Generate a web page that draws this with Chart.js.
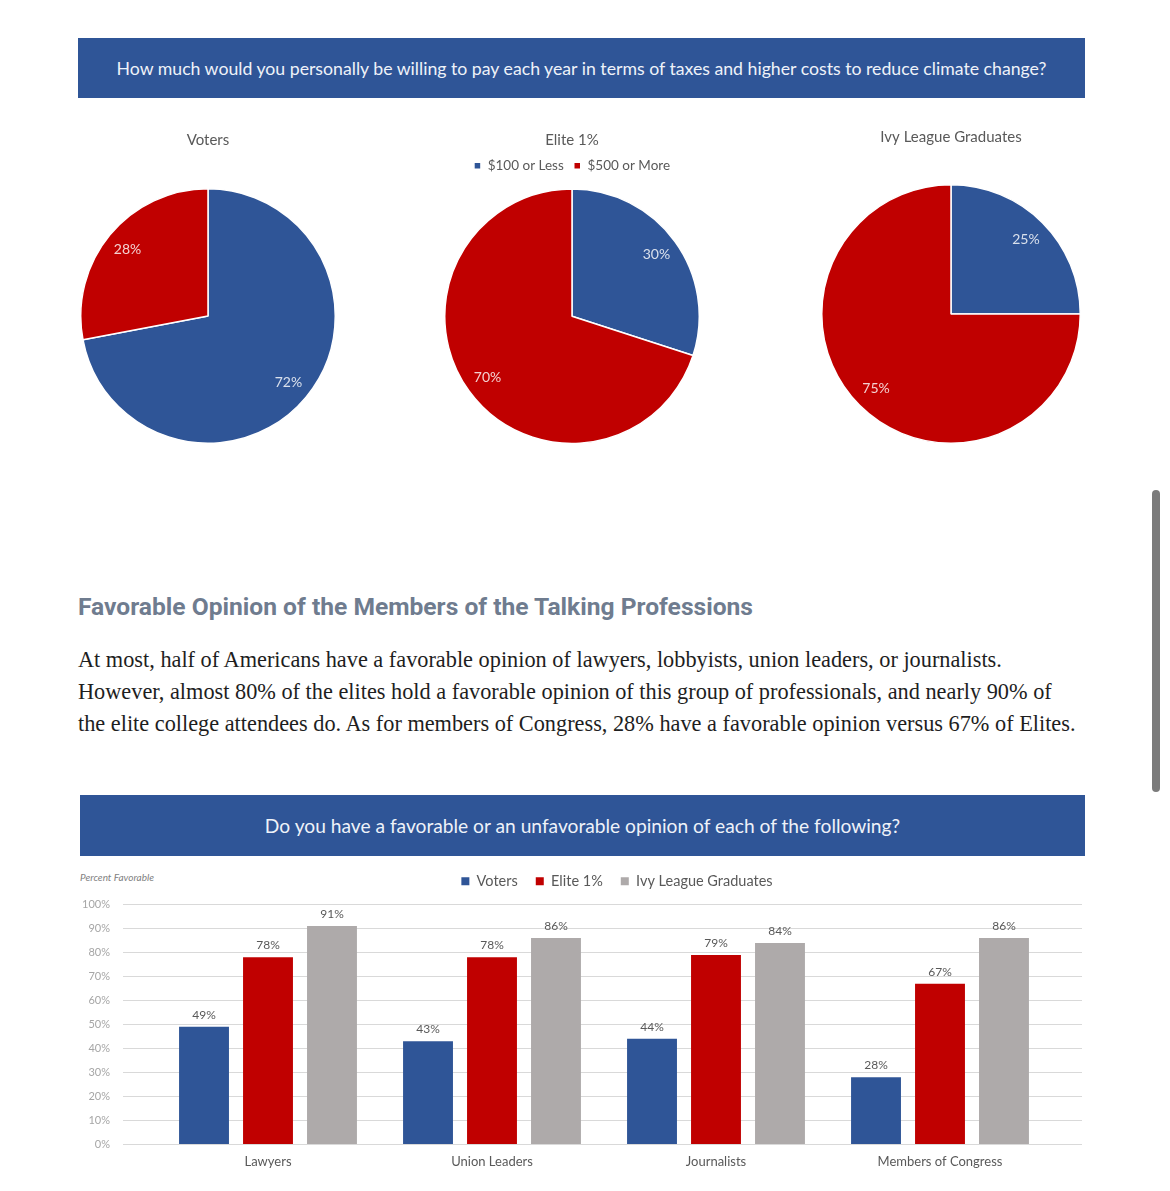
<!DOCTYPE html>
<html>
<head>
<meta charset="utf-8">
<script src="https://cdn.jsdelivr.net/npm/chart.js@4.4.0/dist/chart.umd.min.js"></script>
<style>
  html, body { margin: 0; padding: 0; background: #fff; overflow: hidden; }
  #page { position: relative; width: 1170px; height: 1191px; }
  .band {
    position: absolute; background: #2f5597; color: #eef2f9;
    font-family: Lato, sans-serif; text-align: center;
    display: flex; align-items: center; justify-content: center;
  }
  .abs { position: absolute; }
  h2 {
    position: absolute; left: 78px; top: 591px; margin: 0;
    font-family: Roboto, sans-serif; font-weight: 700; font-size: 24.6px;
    color: #6f7c8f; line-height: 32px;
  }
  p.body {
    position: absolute; left: 78px; top: 644px; margin: 0;
    font-family: "Liberation Serif", serif; font-size: 22.3px; line-height: 32px;
    color: #1e1e1e; white-space: nowrap;
  }
  .scroll {
    position: absolute; left: 1152px; top: 490px; width: 8px; height: 302px;
    background: #7b7b7b; border-radius: 4px;
  }
</style>
</head>
<body>
<div id="page">
  <div class="band" style="left:78px;top:38px;width:1007px;height:60px;font-size:17.7px;">
    How much would you personally be willing to pay each year in terms of taxes and higher costs to reduce climate change?
  </div>

  <div class="abs" style="left:80px;top:120px;width:256px;height:324px;"><canvas id="pieVoters"></canvas></div>
  <div class="abs" style="left:444px;top:120px;width:256px;height:330px;"><canvas id="pieElite"></canvas></div>
  <div class="abs" style="left:821px;top:120px;width:260px;height:324px;"><canvas id="pieIvy"></canvas></div>

  <h2>Favorable Opinion of the Members of the Talking Professions</h2>
  <p class="body">At most, half of Americans have a favorable opinion of lawyers, lobbyists, union leaders, or journalists.<br>However, almost 80% of the elites hold a favorable opinion of this group of professionals, and nearly 90% of<br>the elite college attendees do. As for members of Congress, 28% have a favorable opinion versus 67% of Elites.</p>

  <div class="band" style="left:80px;top:795px;width:1005px;height:61px;font-size:19.2px;">
    Do you have a favorable or an unfavorable opinion of each of the following?
  </div>

  <div class="abs" style="left:80px;top:871px;font-family:Lato,sans-serif;font-style:italic;font-size:10px;color:#7f7f7f;">Percent Favorable</div>
  <div class="abs" style="left:70px;top:856px;width:1094px;height:324px;"><canvas id="bars"></canvas></div>

  <div class="scroll"></div>
</div>

<script>
// pie data
const pieLabels = ["$100 or Less", "$500 or More"];
const votersPie = [72, 28];
const elitePie = [30, 70];
const ivyPie = [25, 75];

// bar data
const groups = ["Lawyers", "Union Leaders", "Journalists", "Members of Congress"];
const votersFav = [49, 43, 44, 28];
const eliteFav = [78, 78, 79, 67];
const ivyFav = [91, 86, 84, 86];

const BLUE = "#2f5597";
const RED = "#c00000";
const GREY = "#aeaaaa";

Chart.defaults.font.family = "Lato, sans-serif";
Chart.defaults.animation = false;

// percent labels inside pie slices
const sliceLabels = {
  id: "sliceLabels",
  afterDatasetsDraw(chart) {
    const ctx = chart.ctx;
    const meta = chart.getDatasetMeta(0);
    const vals = chart.data.datasets[0].data;
    ctx.save();
    ctx.font = "14px Lato, sans-serif";
    ctx.fillStyle = "rgba(255,255,255,0.82)";
    ctx.textAlign = "center";
    ctx.textBaseline = "middle";
    meta.data.forEach((arc, i) => {
      const mid = (arc.startAngle + arc.endAngle) / 2;
      const r = arc.outerRadius * 0.82;
      ctx.fillText(vals[i] + "%", arc.x + Math.cos(mid) * r, arc.y + Math.sin(mid) * r);
    });
    ctx.restore();
  }
};

function makePie(id, title, values, titlePad, showLegend) {
  const ctx = document.getElementById(id).getContext("2d");
  return new Chart(ctx, {
    type: "pie",
    data: {
      labels: pieLabels,
      datasets: [{
        data: values,
        backgroundColor: [BLUE, RED],
        borderColor: "#ffffff",
        borderWidth: 1.5,
        hoverOffset: 0
      }]
    },
    options: {
      responsive: true,
      maintainAspectRatio: false,
      plugins: {
        title: {
          display: true,
          text: title,
          color: "#595959",
          font: { size: 15, weight: "normal" },
          padding: titlePad
        },
        legend: {
          display: showLegend,
          labels: {
            boxWidth: 7, boxHeight: 7, color: "#595959",
            font: { size: 13.5 }, padding: 10
          }
        },
        tooltip: { enabled: false }
      }
    },
    plugins: [sliceLabels]
  });
}

makePie("pieVoters", "Voters", votersPie, { top: 11, bottom: 39 }, false);
makePie("pieElite", "Elite 1%", elitePie, { top: 11, bottom: 0 }, true);
makePie("pieIvy", "Ivy League Graduates", ivyPie, { top: 8, bottom: 38 }, false);

// value labels above bars
const barValues = {
  id: "barValues",
  afterDatasetsDraw(chart) {
    const ctx = chart.ctx;
    ctx.save();
    ctx.font = "12px Lato, sans-serif";
    ctx.fillStyle = "#595959";
    ctx.textAlign = "center";
    ctx.textBaseline = "middle";
    chart.data.datasets.forEach((ds, di) => {
      chart.getDatasetMeta(di).data.forEach((bar, i) => {
        ctx.fillText(ds.data[i] + "%", bar.x, bar.y - 12);
      });
    });
    ctx.restore();
  }
};

// a bit more room under the legend
const legendGap = {
  id: "legendGap",
  beforeInit(chart) {
    const fit = chart.legend.fit;
    chart.legend.fit = function () {
      fit.bind(chart.legend)();
      this.height += 6;
    };
  }
};

new Chart(document.getElementById("bars").getContext("2d"), {
  type: "bar",
  data: {
    labels: groups,
    datasets: [
      { label: "Voters", data: votersFav, backgroundColor: BLUE },
      { label: "Elite 1%", data: eliteFav, backgroundColor: RED },
      { label: "Ivy League Graduates", data: ivyFav, backgroundColor: GREY }
    ]
  },
  options: {
    responsive: true,
    maintainAspectRatio: false,
    categoryPercentage: 0.857,
    barPercentage: 0.78,
    plugins: {
      legend: {
        labels: {
          boxWidth: 8, boxHeight: 8, color: "#595959",
          font: { size: 14.5 }, padding: 18
        }
      },
      tooltip: { enabled: false }
    },
    scales: {
      x: {
        grid: { display: false, drawTicks: false },
        border: { color: "#d9d9d9" },
        ticks: { color: "#595959", font: { size: 13 }, padding: 10 }
      },
      y: {
        min: 0, max: 100,
        afterFit(axis) { axis.width = 86; },
        border: { display: false },
        grid: { color: "#d9d9d9", tickColor: "#d9d9d9", tickLength: 33 },
        ticks: {
          stepSize: 10, padding: 13, color: "#a6a6a6", font: { size: 11 },
          callback: v => v + "%"
        }
      },
      y2: {
        position: "right",
        min: 0, max: 100,
        afterFit(axis) { axis.width = 112; },
        border: { display: false },
        grid: { drawOnChartArea: false, tickColor: "#d9d9d9", tickLength: 30 },
        ticks: { stepSize: 10, color: "rgba(0,0,0,0)" }
      }
    }
  },
  plugins: [barValues, legendGap]
});
</script>
</body>
</html>
